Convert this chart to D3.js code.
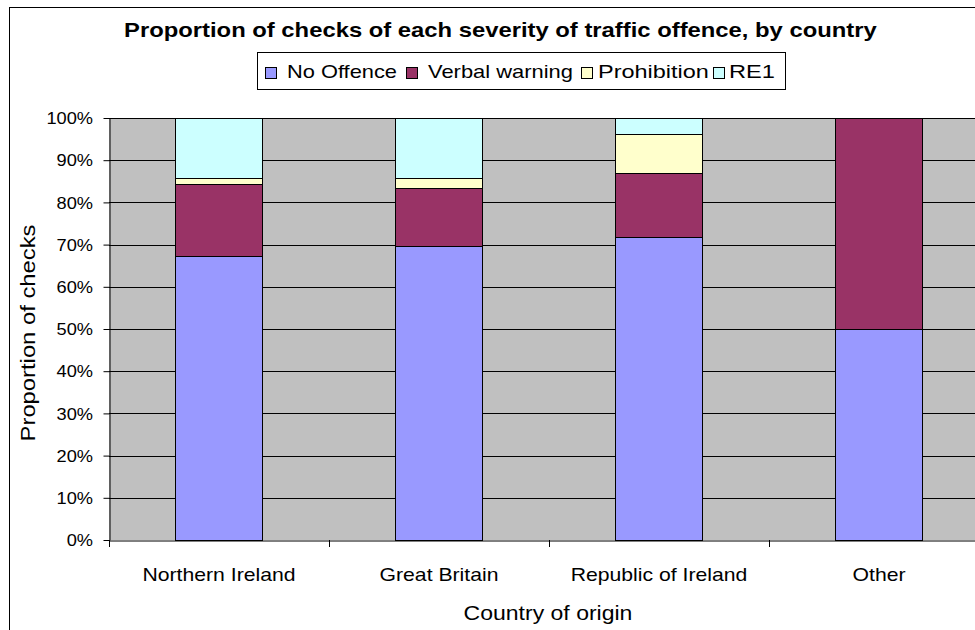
<!DOCTYPE html>
<html>
<head>
<meta charset="utf-8">
<script src="https://cdn.jsdelivr.net/npm/d3@7"></script>
<style>
  html, body { margin: 0; padding: 0; background: #fff; }
  svg { display: block; font-family: Arial, "Liberation Sans", sans-serif; }
</style>
</head>
<body>
<svg id="chart" width="975" height="630"></svg>
<script>
// ---- Data ----
const countries = ["Northern Ireland", "Great Britain", "Republic of Ireland", "Other"];
const seriesNames = ["No Offence", "Verbal warning", "Prohibition", "RE1"];
const noOffence     = [0.674, 0.696, 0.719, 0.50];
const verbalWarning = [0.169, 0.138, 0.151, 0.50];
const prohibition   = [0.015, 0.024, 0.091, 0.00];
const re1           = [0.142, 0.142, 0.039, 0.00];
const yTicks = [0, 0.1, 0.2, 0.3, 0.4, 0.5, 0.6, 0.7, 0.8, 0.9, 1.0];
const titleText = "Proportion of checks of each severity of traffic offence, by country";
const xTitle = "Country of origin";
const yTitle = "Proportion of checks";

// ---- Styles / layout ----
const colors = ["#9999FF", "#993366", "#FFFFCC", "#CCFFFF"];
const plot = { left: 109, right: 989, top: 118, bottom: 540 };

const svg = d3.select("#chart");

// Horizontal glyph stretch: text placed at (tx,ty) with optional rotation, scaled so it spans width w (or factor f)
function placeStretched(sel, tx, ty, rot, opts) {
  sel.each(function() {
    const n = this.getComputedTextLength();
    const s = opts.w ? opts.w / n : opts.f;
    d3.select(this).attr("x", 0).attr("y", 0)
      .attr("transform", `translate(${tx},${ty})${rot ? ` rotate(${rot})` : ""} scale(${s},1)`);
  });
}

// Outer frame
svg.append("rect")
  .attr("x", 9.5).attr("y", 7.5)
  .attr("width", 1100).attr("height", 700)
  .attr("fill", "#fff").attr("stroke", "#000").attr("stroke-width", 1);

// Scales
const x = d3.scaleBand()
  .domain(countries)
  .range([plot.left, plot.right])
  .paddingInner(0.6045)
  .paddingOuter(0.30225);
const y = d3.scaleLinear().domain([0, 1]).range([plot.bottom, plot.top]);

// Plot background
svg.append("rect")
  .attr("x", plot.left).attr("y", plot.top)
  .attr("width", plot.right - plot.left).attr("height", plot.bottom - plot.top)
  .attr("fill", "#C0C0C0");

// Gridlines
svg.append("g").selectAll("line").data(yTicks.filter(d => d > 0)).join("line")
  .attr("x1", plot.left).attr("x2", plot.right)
  .attr("y1", d => Math.round(y(d)) + 0.5).attr("y2", d => Math.round(y(d)) + 0.5)
  .attr("stroke", "#000").attr("stroke-width", 1);

// Stacked data
const table = countries.map((c, i) => ({
  country: c,
  "No Offence": noOffence[i],
  "Verbal warning": verbalWarning[i],
  "Prohibition": prohibition[i],
  "RE1": re1[i]
}));
const stacked = d3.stack().keys(seriesNames)(table);

svg.append("g").selectAll("g").data(stacked).join("g")
  .attr("fill", (d, i) => colors[i])
  .selectAll("rect").data(d => d.filter(v => v[1] - v[0] > 0)).join("rect")
  .attr("x", d => Math.round(x(d.data.country)) + 0.5)
  .attr("y", d => Math.round(y(d[1])) + 0.5)
  .attr("width", Math.round(x.bandwidth()))
  .attr("height", d => Math.round(y(d[0])) - Math.round(y(d[1])))
  .attr("stroke", "#000").attr("stroke-width", 1);

// Y axis
const yAxis = d3.axisLeft(y).tickValues(yTicks).tickFormat(d3.format(".0%"))
  .tickSizeInner(6).tickSizeOuter(0).tickPadding(10);
const gy = svg.append("g").attr("transform", `translate(${plot.left + 0.5},0)`).call(yAxis);
gy.select(".domain").attr("stroke", "#000");
gy.selectAll(".tick line").attr("stroke", "#000");
gy.selectAll(".tick text")
  .attr("font-size", 16).attr("fill", "#000")
  .attr("font-family", "Arial, 'Liberation Sans', sans-serif")
  .attr("dy", "0.36em")
  .call(placeStretched, -16.5, 0, 0, { f: 1.14 });

// X axis
const xAxis = d3.axisBottom(x).tickSize(0).tickPadding(0);
const gx = svg.append("g").attr("transform", `translate(0,${plot.bottom + 0.5})`).call(xAxis);
gx.select(".domain").attr("stroke", "#000");
gx.selectAll(".tick text")
  .attr("font-size", 19).attr("fill", "#000")
  .attr("font-family", "Arial, 'Liberation Sans', sans-serif")
  .attr("dy", 0)
  .call(placeStretched, 0, 40.5, 0, { f: 1.115 });
// category boundary ticks
const boundaries = countries.map(c => x(c) - x.step() * x.paddingInner() / 2).concat([plot.right]);
svg.append("g").selectAll("line").data(boundaries).join("line")
  .attr("x1", d => Math.round(d) + 0.5).attr("x2", d => Math.round(d) + 0.5)
  .attr("y1", plot.bottom).attr("y2", plot.bottom + 7)
  .attr("stroke", "#000");

// Title
svg.append("text")
  .attr("font-size", 20).attr("font-weight", "bold").attr("fill", "#000")
  .text(titleText)
  .call(placeStretched, 124, 37, 0, { w: 753 });

// Axis titles
svg.append("text")
  .attr("text-anchor", "middle")
  .attr("font-size", 20).attr("fill", "#000")
  .text(xTitle)
  .call(placeStretched, 548, 620, 0, { w: 169 });

svg.append("text")
  .attr("text-anchor", "middle")
  .attr("font-size", 20).attr("fill", "#000")
  .text(yTitle)
  .call(placeStretched, 35, 333, -90, { w: 217 });

// Legend
const legendBox = { x: 257.5, y: 52.5, w: 528, h: 37 };
const legendItems = [
  { sx: 265, tx: 287, tw: 110 },
  { sx: 406, tx: 428, tw: 145 },
  { sx: 581, tx: 598, tw: 111 },
  { sx: 713, tx: 729, tw: 46 }
];
const lg = svg.append("g");
lg.append("rect")
  .attr("x", legendBox.x).attr("y", legendBox.y)
  .attr("width", legendBox.w).attr("height", legendBox.h)
  .attr("fill", "#fff").attr("stroke", "#000");
const li = lg.selectAll("g.item").data(seriesNames).join("g").attr("class", "item");
li.append("rect")
  .attr("x", (d, i) => legendItems[i].sx + 0.5).attr("y", 67.5)
  .attr("width", 11).attr("height", 11)
  .attr("fill", (d, i) => colors[i]).attr("stroke", "#000");
li.append("text")
  .attr("font-size", 18).attr("fill", "#000")
  .text(d => d)
  .each(function(d, i) { d3.select(this).call(placeStretched, legendItems[i].tx, 78, 0, { w: legendItems[i].tw }); });
</script>
</body>
</html>
